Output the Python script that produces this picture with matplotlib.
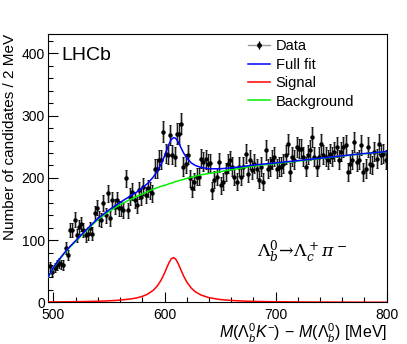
import numpy as np
import matplotlib
matplotlib.use("Agg")
import matplotlib.pyplot as plt
from matplotlib.lines import Line2D
from matplotlib.ticker import MultipleLocator

plt.rcParams['font.family'] = ['Liberation Sans', 'DejaVu Sans']
plt.rcParams['mathtext.fontset'] = 'custom'
plt.rcParams['mathtext.rm'] = 'Liberation Sans'
plt.rcParams['mathtext.it'] = 'Liberation Sans:italic'

# data: 2 MeV bins, centres 497 ... 799
mass = np.arange(497, 800, 2)
counts = [58, 49, 56, 60, 63, 61, 60, 87, 76, 116,
          116, 133, 108, 121, 126, 116, 108, 110, 119, 110,
          143, 152, 135, 132, 160, 140, 175, 135, 164, 154,
          164, 151, 151, 148, 199, 148, 170, 178, 164, 156,
          180, 170, 186, 172, 183, 180, 175, 215, 215, 229,
          229, 274, 239, 237, 269, 237, 234, 271, 271, 287,
          218, 223, 237, 199, 183, 194, 202, 202, 231, 226,
          230, 223, 224, 180, 197, 202, 225, 188, 194, 210,
          223, 228, 218, 202, 194, 218, 202, 218, 239, 207,
          229, 213, 223, 215, 197, 218, 194, 245, 215, 218,
          229, 234, 215, 218, 218, 223, 237, 255, 210, 234,
          229, 250, 247, 247, 234, 218, 237, 245, 266, 234,
          218, 234, 255, 237, 234, 229, 239, 234, 242, 250,
          229, 242, 250, 253, 210, 223, 229, 258, 226, 229,
          253, 210, 215, 250, 223, 221, 242, 231, 255, 237,
          239, 229]
counts = np.array(counts)
errors = np.sqrt(counts)

# fit components
fit_x = [495.5, 498, 500, 503, 506, 510, 515, 520, 525, 530, 540, 550, 560,
         570, 575, 580, 585, 590, 594, 597, 600, 602, 604, 606, 608, 610,
         612, 614, 617, 620, 624, 628, 633, 640, 650, 660, 670, 680, 700,
         725, 750, 775, 800]
bkg = [41, 49, 55, 63, 70, 79, 89, 98, 107, 116, 133, 146, 157,
       166, 170, 174, 178, 182, 184.5, 186.5, 188, 189, 190.5, 191.5, 192.5, 194,
       195, 196, 197.5, 199, 201, 203, 205, 207, 210, 213, 216, 219, 223,
       228, 233, 238, 242]
sig = [0.68, 0.71, 0.74, 0.78, 0.83, 0.9, 1.0, 1.1, 1.24, 1.4, 1.8, 2.5, 3.6,
       5.6, 7.2, 9.6, 13.4, 19.6, 27.5, 36, 47, 55.5, 63.6, 69.7, 72, 69.7,
       63.6, 55.5, 43.1, 32.9, 23.1, 16.7, 11.7, 7.6, 4.6, 3.1, 2.2, 1.6, 1.0,
       0.63, 0.43, 0.31, 0.23]
full = np.array(bkg) + np.array(sig)

fig = plt.figure(figsize=(4.07, 3.44), dpi=100)
ax = fig.add_axes([0.119, 0.121, 0.831, 0.780])

ax.errorbar(mass, counts, yerr=errors, fmt='none', ecolor='#b4b4b4', elinewidth=2.2, zorder=2)
ax.errorbar(mass, counts, yerr=errors, fmt='o', color='black', ms=2.2,
            ecolor='black', elinewidth=0.6, capsize=1.0, capthick=0.6, zorder=3)

ax.plot(fit_x, bkg, color='#00f000', lw=1.1, zorder=4)
ax.plot(fit_x, full, color='#0000ff', lw=1.1, zorder=5)
ax.plot(fit_x, sig, color='#ff0000', lw=1.1, zorder=5)

ax.set_xlim(495.5, 800)
ax.set_ylim(0, 431)
ax.xaxis.set_major_locator(MultipleLocator(100))
ax.xaxis.set_minor_locator(MultipleLocator(20))
ax.yaxis.set_major_locator(MultipleLocator(100))
ax.yaxis.set_minor_locator(MultipleLocator(20))
ax.tick_params(which='both', direction='in', labelsize=10)
ax.tick_params(which='major', length=7, width=0.8)
ax.tick_params(which='minor', length=3.5, width=0.8)
ax.tick_params(axis='x', pad=4)
ax.tick_params(axis='y', pad=2.5)

ax.set_ylabel('Number of candidates / 2 MeV', loc='top', fontsize=11, labelpad=3)
ax.set_xlabel(r'$M(\mathit{\Lambda}_b^0K^{-})\,-\,M(\mathit{\Lambda}_b^0)$ [MeV]',
              loc='right', fontsize=11.5, labelpad=0)

ax.text(0.037, 0.903, 'LHCb', transform=ax.transAxes, fontsize=14)
ax.text(0.617, 0.17, r'$\mathit{Λ}_b^0\!\rightarrow\!\mathit{Λ}_c^+\mathit{π}^-$',
        transform=ax.transAxes, fontsize=12.5, math_fontfamily='dejavuserif')

h_data = (Line2D([], [], color='#999999', lw=1.0),
          Line2D([], [], color='black', marker='|', ms=6, ls='none'),
          Line2D([], [], color='black', marker='o', ms=2.5, ls='none'))
handles = [h_data,
           Line2D([], [], color='#0000ff', lw=1.1),
           Line2D([], [], color='#ff0000', lw=1.1),
           Line2D([], [], color='#00f000', lw=1.1)]
ax.legend(handles, ['Data', 'Full fit', 'Signal', 'Background'],
          loc='upper left', bbox_to_anchor=(0.59, 0.98), frameon=False,
          fontsize=10.5, borderpad=0, labelspacing=0.3, handlelength=1.5,
          handletextpad=0.4, borderaxespad=0)

fig.savefig('out.png', dpi=100)
